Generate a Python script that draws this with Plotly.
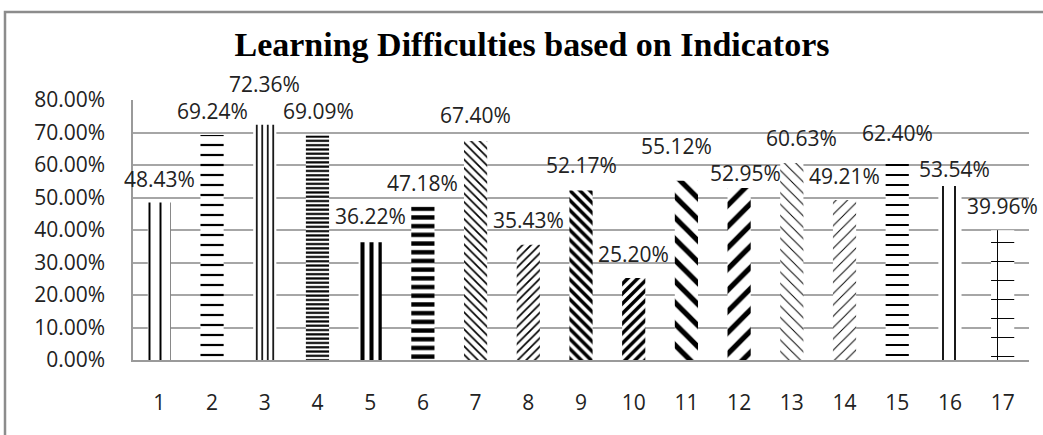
import plotly.graph_objects as go

categories = [str(i) for i in range(1, 18)]
values = [0.4843, 0.6924, 0.7236, 0.6909, 0.3622, 0.4718, 0.6740, 0.3543, 0.5217,
          0.2520, 0.5512, 0.5295, 0.6063, 0.4921, 0.6240, 0.5354, 0.3996]
tick_vals = [0, 0.1, 0.2, 0.3, 0.4, 0.5, 0.6, 0.7, 0.8]

# pattern styles per bar
shapes = ["|", "-", "|", "-", "|", "-", "\\", "/", "\\", "/", "\\", "/", "\\", "/", "-", "|", "+"]
sizes = [11, 10, 5.5, 4.3, 9, 8.7, 6, 6, 7, 7, 15, 15, 8, 8, 10, 12, 19]
solid = [0.18, 0.22, 0.3, 0.5, 0.45, 0.5, 0.28, 0.28, 0.5, 0.5, 0.35, 0.35, 0.12, 0.12, 0.2, 0.15, 0.1]
# label offsets (px)
label_dy = [24, 24, 41, 24.5, 26, 24, 25.5, 25, 25, 24.5, 35, 14.5, 24.5, 24.5, 24, 17, 24]
label_dx = [0, 0, 0, 1, 0, 0, 0, 0, 0, 0, -10, 6, 10, 0, 0, 5, 0]

fig = go.Figure()
for i, (c, v) in enumerate(zip(categories, values)):
    fig.add_trace(go.Bar(
        x=[c], y=[v], width=0.44,
        marker=dict(color="white", line=dict(width=0),
                    pattern=dict(shape=shapes[i], size=sizes[i], solidity=solid[i],
                                 fgcolor="black", fgopacity=1, bgcolor="white",
                                 fillmode="overlay")),
        showlegend=False, hoverinfo="skip",
    ))

for i, v in enumerate(values):
    fig.add_annotation(x=i, y=v, text=f"{v*100:.2f}%", showarrow=False,
                       xref="x", yref="y",
                       yanchor="middle", xanchor="center",
                       yshift=label_dy[i], xshift=label_dx[i],
                       font=dict(family="Open Sans", size=21, color="#222"))

fig.update_layout(
    width=1043, height=435,
    margin=dict(l=133, r=14, t=100, b=75, autoexpand=False),
    paper_bgcolor="white", plot_bgcolor="white",
    barmode="overlay",
    title=dict(text="<b>Learning Difficulties based on Indicators</b>",
               x=532/1043, xanchor="center", xref="container",
               y=1 - 44/435, yanchor="middle", yref="container",
               font=dict(family="Liberation Serif", size=34, color="black")),
    xaxis=dict(type="category", categoryorder="array", categoryarray=categories,
               range=[-0.5, 16.5], automargin=False,
               showline=True, linecolor="#9a9a9a", linewidth=1.5,
               showgrid=False, ticks="", ticklabelstandoff=23,
               tickfont=dict(family="Open Sans", size=21, color="#222")),
    yaxis=dict(range=[0, 0.8], tickvals=tick_vals, tickformat=".2%", automargin=False,
               showgrid=True, gridcolor="#a6a6a6", gridwidth=1.5,
               showline=True, linecolor="#9a9a9a", linewidth=1.5,
               zeroline=False, ticks="", ticklabelstandoff=22,
               tickfont=dict(family="Open Sans", size=21, color="#222")),
    shapes=[dict(type="rect", xref="paper", yref="paper",
                 x0=(5 - 133) / 896, x1=(1060 - 133) / 896,
                 y0=(360 - 450) / 260, y1=(360 - 12) / 260,
                 line=dict(color="#8c8c8c", width=2.5), fillcolor="rgba(0,0,0,0)",
                 layer="below")],
)

fig.write_html("out.html", config={"displayModeBar": False},
               post_script="document.body.style.margin='0';document.body.style.overflow='hidden';")
